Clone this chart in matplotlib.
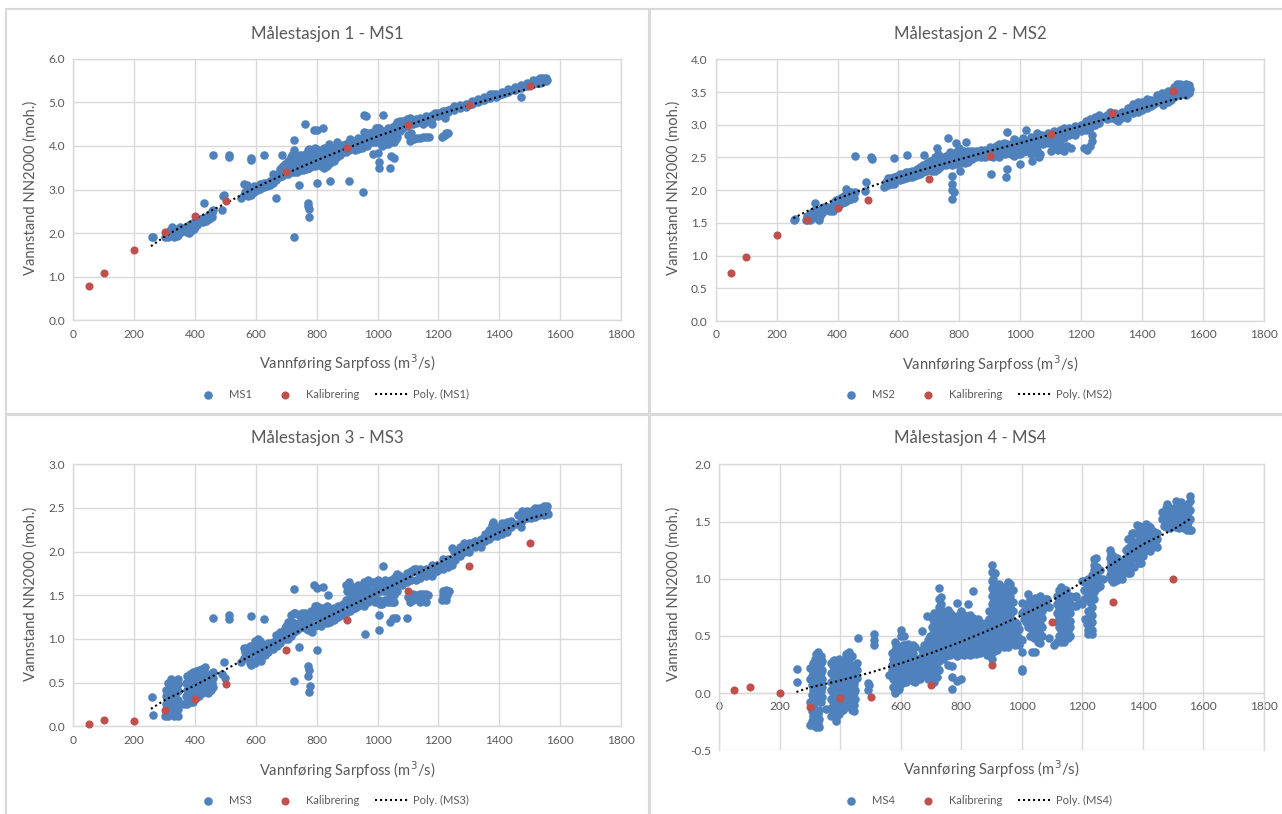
import matplotlib
matplotlib.use("Agg")
import matplotlib.pyplot as plt
from matplotlib.patches import Rectangle

WIDTH, HEIGHT = 1282, 814
BLUE = "#4F81BD"
RED = "#C0504D"
GRID = "#D9D9D9"
TEXT = "#595959"

plt.rcParams["font.family"] = ["Lato", "DejaVu Sans"]

kal_x = [50, 100, 200, 300, 400, 500, 700, 900, 1100, 1300, 1500]
kal_ms1 = [0.78, 1.09, 1.61, 2.03, 2.39, 2.74, 3.39, 3.96, 4.47, 4.94, 5.38]
kal_ms2 = [0.73, 0.98, 1.32, 1.55, 1.72, 1.85, 2.17, 2.52, 2.86, 3.18, 3.52]
kal_ms3 = [0.03, 0.07, 0.06, 0.19, 0.31, 0.48, 0.87, 1.22, 1.55, 1.83, 2.10]
kal_ms4 = [0.03, 0.05, 0.00, -0.12, -0.04, -0.03, 0.07, 0.25, 0.62, 0.80, 1.00]

poly_x = [255, 300, 400, 500, 600, 700, 800, 900, 1000, 1100, 1200, 1300, 1400, 1500, 1555]
poly_ms1 = [1.70, 1.92, 2.33, 2.68, 3.05, 3.37, 3.67, 3.95, 4.22, 4.47, 4.72, 4.93, 5.13, 5.32, 5.40]
poly_ms2 = [1.57, 1.68, 1.87, 2.04, 2.20, 2.34, 2.47, 2.60, 2.72, 2.85, 2.98, 3.11, 3.25, 3.38, 3.42]
poly_ms3 = [0.20, 0.30, 0.47, 0.65, 0.84, 1.02, 1.19, 1.36, 1.53, 1.70, 1.87, 2.05, 2.22, 2.38, 2.43]
poly_ms4 = [0.01, 0.05, 0.11, 0.18, 0.26, 0.35, 0.45, 0.56, 0.68, 0.81, 0.97, 1.13, 1.30, 1.43, 1.52]

ms1_points = [
    (258, 1.92), (262, 1.90), (300, 1.90), (310, 1.92), (320, 1.95), (330, 1.90), (340, 1.93), (345, 1.95),
    (325, 2.15), (335, 2.10), (350, 2.15), (345, 2.05), (360, 2.10), (375, 2.02), (380, 2.00), (385, 2.05),
    (390, 2.12), (385, 2.22), (400, 2.20), (410, 2.25), (420, 2.30), (430, 2.32), (440, 2.35), (450, 2.38),
    (455, 2.50), (460, 2.52), (428, 2.70), (490, 2.52), (493, 2.85), (495, 2.88),
    (552, 2.80), (560, 2.88), (565, 2.95), (570, 2.90), (580, 2.90), (590, 2.95), (560, 3.12), (570, 3.10),
    (600, 3.05), (610, 3.08), (620, 3.10), (630, 3.10), (640, 3.15), (650, 3.20), (660, 3.25), (655, 3.35),
    (670, 3.30), (680, 3.35), (680, 3.48), (690, 3.55), (700, 3.50), (705, 3.40), (710, 3.45), (715, 3.55),
    (725, 3.60), (720, 3.78), (725, 3.90), (730, 3.75), (740, 3.72), (735, 3.55), (745, 3.45), (750, 3.60),
    (755, 3.70), (770, 3.50), (775, 3.60), (780, 3.70), (775, 3.85), (770, 3.90), (790, 3.80), (800, 3.70),
    (810, 3.60), (805, 3.90), (820, 3.80), (830, 3.65), (825, 3.50), (840, 3.70), (850, 3.75), (835, 3.95),
    (840, 4.05), (860, 3.85), (865, 4.10), (870, 3.85), (880, 3.90), (890, 3.95), (905, 4.05), (910, 4.15),
    (920, 3.95), (925, 3.90), (935, 4.05), (940, 4.15), (945, 4.00), (950, 3.95), (960, 4.10), (965, 4.30),
    (975, 4.30), (985, 4.15), (995, 4.20), (1000, 4.40), (1005, 4.10), (1015, 4.00), (1025, 4.25), (1035, 4.15),
    (1045, 4.40), (1050, 4.20), (1060, 4.15), (1065, 4.55), (1080, 4.50), (1095, 4.55), (1105, 4.65), (1120, 4.55),
    (1130, 4.60), (1150, 4.62), (1170, 4.65), (1190, 4.75), (1210, 4.70), (1225, 4.80), (1240, 4.85), (1260, 4.90),
    (1280, 4.92), (1300, 4.95), (1320, 5.00), (1340, 5.05), (1360, 5.10), (1380, 5.18), (1400, 5.17), (1420, 5.22),
    (1440, 5.28), (1460, 5.32), (1480, 5.38), (1500, 5.42), (1520, 5.48), (1530, 5.50), (1540, 5.52), (1550, 5.50),
    (1558, 5.52),
    (1105, 4.12), (1100, 4.25), (1110, 4.30), (1120, 4.15), (1130, 4.17), (1140, 4.18), (1150, 4.20), (1160, 4.20),
    (1170, 4.20), (1210, 4.20), (1215, 4.22), (1220, 4.25), (1225, 4.30), (1232, 4.30),
    (458, 3.78), (510, 3.80), (510, 3.74), (585, 3.73), (585, 3.68), (627, 3.78), (685, 3.80), (725, 4.13),
    (762, 4.50), (790, 4.37), (800, 4.37), (820, 4.40), (955, 4.70), (962, 4.68), (1018, 4.70), (1470, 5.13),
    (1180, 4.50), (1150, 4.50), (1220, 4.65), (665, 2.81), (725, 1.92), (740, 3.10), (772, 2.70), (770, 2.62),
    (775, 2.55), (775, 2.36), (802, 3.16), (843, 3.20), (905, 3.20), (952, 2.95), (985, 3.82), (1000, 3.83),
    (1003, 3.63), (1003, 3.50), (1040, 3.50), (1045, 3.77), (1055, 3.73),
]

# the dense part of each band, read column by column
ms1_band = [
    (305, [1.95, 2.00]), (315, [2.00, 2.05]), (325, [2.00, 2.05]), (335, [2.00]), (355, [2.02, 2.12]),
    (370, [2.05, 2.15]), (380, [2.10, 2.18]), (395, [2.10, 2.25]), (405, [2.18, 2.28]), (415, [2.25, 2.32]),
    (425, [2.25, 2.35]), (435, [2.28, 2.38]), (445, [2.32, 2.42]), (455, [2.38, 2.45]),
    (575, [2.85, 3.00]), (585, [2.88, 3.02]), (595, [2.95, 3.08]), (605, [3.00]), (615, [3.02, 3.12]),
    (625, [3.05, 3.14]), (635, [3.08, 3.16]), (645, [3.10, 3.20]), (655, [3.15, 3.25]), (665, [3.22, 3.32]),
    (675, [3.28, 3.38]), (685, [3.30, 3.42, 3.52]), (695, [3.35, 3.45, 3.58]), (705, [3.35, 3.55, 3.65]),
    (715, [3.40, 3.65, 3.75]), (725, [3.40, 3.50, 3.70, 3.80]), (735, [3.40, 3.65]), (745, [3.55, 3.68, 3.80]),
    (755, [3.45, 3.55, 3.80]), (765, [3.48, 3.60, 3.70, 3.82]), (775, [3.50, 3.70, 3.78, 3.92]),
    (785, [3.55, 3.65, 3.75, 3.88]), (795, [3.55, 3.65, 3.75, 3.90, 3.95]), (805, [3.60, 3.70, 3.80]),
    (815, [3.55, 3.68, 3.80, 3.90]), (825, [3.60, 3.72, 3.85, 3.95]), (835, [3.55, 3.65, 3.75, 3.85]),
    (845, [3.60, 3.85, 3.95]), (855, [3.65, 3.80, 3.95]), (865, [3.75, 3.95]), (875, [3.80, 4.00]),
    (885, [3.85, 4.02]), (895, [3.85, 4.05]), (905, [3.90, 3.95, 4.10]), (915, [3.95, 4.05, 4.12]),
    (925, [4.00, 4.12]), (935, [3.92, 4.18]), (945, [4.10]), (955, [4.05, 4.20, 4.32]), (965, [4.00, 4.18]),
    (975, [4.08, 4.20]), (985, [4.10, 4.25, 4.32]), (995, [4.10, 4.30, 4.40]), (1005, [4.20, 4.30, 4.42]),
    (1015, [4.10, 4.25, 4.35]), (1025, [4.05, 4.15, 4.35]), (1035, [4.05, 4.25, 4.40]), (1045, [4.10, 4.28]),
    (1055, [4.10, 4.30, 4.45]), (1065, [4.20, 4.40]), (1075, [4.35, 4.45, 4.58]), (1085, [4.40, 4.58]),
    (1095, [4.45, 4.62]), (1105, [4.50, 4.55]), (1115, [4.50, 4.60]), (1125, [4.52, 4.62]), (1140, [4.55, 4.65]),
    (1160, [4.55, 4.68]), (1180, [4.65, 4.72]), (1200, [4.68, 4.75]), (1215, [4.72, 4.80]), (1232, [4.78, 4.83]),
    (1250, [4.82, 4.92]), (1270, [4.88, 4.94]), (1290, [4.90, 4.97]), (1310, [4.95, 5.02]), (1330, [5.00, 5.07]),
    (1350, [5.05, 5.12]), (1370, [5.10, 5.18]), (1390, [5.13, 5.20]), (1410, [5.18, 5.24]), (1430, [5.24, 5.30]),
    (1450, [5.28, 5.34]), (1470, [5.33, 5.40]), (1490, [5.38, 5.44]), (1510, [5.42, 5.50]), (1525, [5.45, 5.52]),
    (1535, [5.45, 5.55]), (1545, [5.48, 5.55]), (1555, [5.48, 5.56]),
]

ms2_points = [
    (258, 1.55), (262, 1.56), (295, 1.55), (305, 1.58), (315, 1.60), (325, 1.65), (335, 1.57), (342, 1.60),
    (325, 1.80), (345, 1.70), (355, 1.75), (375, 1.68), (380, 1.72), (390, 1.82), (400, 1.80), (410, 1.85),
    (420, 1.85), (430, 1.87), (440, 1.90), (450, 1.92), (458, 1.97), (428, 2.01), (490, 1.98), (493, 2.12),
    (552, 2.05), (560, 2.12), (570, 2.15), (580, 2.15), (585, 2.10), (590, 2.20), (600, 2.18), (610, 2.20),
    (620, 2.22), (630, 2.22), (640, 2.25), (650, 2.22), (655, 2.30), (665, 2.28), (675, 2.30), (685, 2.35),
    (695, 2.42), (700, 2.35), (710, 2.30), (715, 2.45), (725, 2.40), (735, 2.35), (740, 2.50), (750, 2.42),
    (760, 2.45), (775, 2.38), (785, 2.50), (795, 2.45), (810, 2.50), (820, 2.42), (825, 2.55), (835, 2.50),
    (845, 2.55), (860, 2.52), (875, 2.58), (890, 2.55), (905, 2.60), (915, 2.65), (925, 2.55), (940, 2.68),
    (950, 2.55), (965, 2.62), (975, 2.72), (985, 2.60), (1000, 2.55), (1005, 2.65), (1020, 2.75), (1030, 2.65),
    (1045, 2.60), (1060, 2.70), (1070, 2.85), (1085, 2.82), (1100, 2.75), (1110, 2.90), (1120, 2.78), (1135, 2.85),
    (1150, 2.90), (1170, 2.92), (1190, 2.95), (1210, 3.00), (1225, 3.05), (1240, 3.08), (1255, 3.10), (1270, 3.12),
    (1285, 3.15), (1300, 3.15), (1320, 3.05), (1330, 3.10), (1345, 3.15), (1350, 3.10), (1360, 3.25), (1375, 3.25),
    (1390, 3.30), (1405, 3.28), (1420, 3.35), (1440, 3.32), (1455, 3.40), (1470, 3.35), (1480, 3.48), (1490, 3.42),
    (1500, 3.45), (1510, 3.50), (1520, 3.58), (1530, 3.50), (1540, 3.60), (1548, 3.52), (1555, 3.48), (1558, 3.55),
    (1100, 2.60), (1110, 2.68), (1125, 2.62), (1135, 2.68), (1145, 2.60), (1155, 2.68), (1165, 2.65), (1210, 2.65),
    (1220, 2.62), (1230, 2.68), (1235, 2.75), (1040, 2.45), (1060, 2.50), (1000, 2.40), (1470, 3.30), (1235, 2.85),
    (458, 2.52), (510, 2.50), (512, 2.47), (585, 2.49), (627, 2.53), (685, 2.54), (725, 2.65), (762, 2.80),
    (790, 2.72), (800, 2.65), (822, 2.73), (958, 2.89), (1018, 2.92), (775, 2.22), (775, 2.10), (775, 2.00),
    (782, 1.97), (775, 1.86), (802, 2.29), (905, 2.25), (952, 2.20), (958, 2.32),
]

ms2_band = [
    (300, [1.60]), (310, [1.55, 1.63]), (320, [1.58, 1.68]), (330, [1.60, 1.70]), (340, [1.55, 1.65]),
    (350, [1.65, 1.72]), (365, [1.70, 1.75]), (385, [1.68, 1.78]), (395, [1.75, 1.85]), (405, [1.78, 1.87]),
    (415, [1.80, 1.90]), (425, [1.82, 1.92]), (435, [1.85, 1.92]), (445, [1.87, 1.97]), (455, [1.88, 1.95]),
    (565, [2.08, 2.18]), (575, [2.10, 2.18]), (585, [2.13, 2.20]), (595, [2.15, 2.22]), (605, [2.15, 2.25]),
    (615, [2.17, 2.25]), (625, [2.18, 2.27]), (635, [2.20, 2.28]), (645, [2.20, 2.30]), (660, [2.23, 2.32]),
    (670, [2.25, 2.35]), (680, [2.28, 2.38]), (690, [2.30, 2.40]), (705, [2.32, 2.45]), (720, [2.30, 2.38, 2.50]),
    (730, [2.32, 2.45, 2.55]), (745, [2.38, 2.48]), (755, [2.38, 2.52]), (770, [2.42, 2.50, 2.58]),
    (780, [2.42, 2.55]), (790, [2.40, 2.50, 2.58]), (805, [2.42, 2.55]), (815, [2.48, 2.56, 2.60]),
    (830, [2.43, 2.60]), (840, [2.47, 2.60]), (855, [2.50, 2.60]), (870, [2.50, 2.62]), (885, [2.50, 2.62]),
    (900, [2.52, 2.66]), (910, [2.50, 2.58]), (920, [2.60, 2.68]), (930, [2.50, 2.65, 2.70]), (945, [2.60, 2.72]),
    (955, [2.62, 2.70]), (970, [2.55, 2.68]), (980, [2.52, 2.68, 2.78]), (990, [2.55, 2.65, 2.75]),
    (1010, [2.58, 2.72, 2.80]), (1020, [2.60, 2.68]), (1035, [2.55, 2.72, 2.82]), (1045, [2.68, 2.80]),
    (1055, [2.55, 2.62, 2.78, 2.88]), (1065, [2.55, 2.75]), (1075, [2.70, 2.80]), (1090, [2.72, 2.88]),
    (1105, [2.80, 2.85]), (1115, [2.72, 2.82]), (1130, [2.75, 2.92]), (1145, [2.80, 2.95]), (1160, [2.85, 2.95]),
    (1180, [2.85, 2.98]), (1200, [2.90, 3.00]), (1215, [2.92, 3.05]), (1230, [2.95, 3.08]), (1245, [3.00, 3.12]),
    (1260, [3.02, 3.15]), (1285, [3.08]), (1295, [3.10, 3.20]), (1310, [3.08, 3.18]), (1320, [3.15]),
    (1335, [3.15, 3.20]), (1355, [3.18, 3.25]), (1370, [3.18, 3.32]), (1385, [3.20, 3.35]), (1400, [3.22, 3.35]),
    (1415, [3.25, 3.40]), (1430, [3.28, 3.38]), (1450, [3.35, 3.45]), (1465, [3.40, 3.48]), (1485, [3.35, 3.52]),
    (1495, [3.38, 3.52]), (1505, [3.42, 3.58]), (1515, [3.45, 3.55, 3.62]), (1525, [3.45, 3.55, 3.62]),
    (1535, [3.48, 3.58]), (1545, [3.46, 3.58, 3.62]), (1555, [3.50, 3.60]),
]

ms3_points = [
    (258, 0.34), (262, 0.13), (300, 0.12), (305, 0.18), (310, 0.25), (305, 0.35), (312, 0.42), (320, 0.48),
    (325, 0.38), (315, 0.30), (320, 0.15), (325, 0.22), (330, 0.12), (335, 0.15), (340, 0.25), (345, 0.20),
    (338, 0.30), (335, 0.42), (340, 0.52), (328, 0.52), (345, 0.40), (365, 0.25), (375, 0.25), (385, 0.28),
    (370, 0.35), (380, 0.42), (370, 0.50), (380, 0.55), (390, 0.58), (400, 0.60), (395, 0.48), (390, 0.35),
    (405, 0.40), (415, 0.42), (425, 0.45), (410, 0.55), (420, 0.62), (430, 0.65), (435, 0.55), (440, 0.40),
    (448, 0.42), (455, 0.50), (445, 0.58), (460, 0.62), (490, 0.60), (495, 0.74), (498, 0.55),
    (552, 0.74), (565, 0.85), (570, 0.90), (578, 0.78), (585, 0.70), (590, 0.85), (600, 0.75), (605, 0.95),
    (612, 0.98), (620, 0.80), (625, 0.85), (635, 0.88), (650, 0.90), (660, 0.92), (665, 1.05), (680, 1.00),
    (690, 1.08), (700, 1.15), (710, 1.05), (720, 1.20), (730, 1.30), (735, 1.10), (745, 1.20), (755, 1.25),
    (765, 1.15), (775, 1.20), (785, 1.08), (790, 1.25), (800, 1.38), (810, 1.20), (820, 1.30), (830, 1.20),
    (840, 1.35), (850, 1.25), (865, 1.30), (880, 1.35), (890, 1.30), (900, 1.55), (905, 1.65), (900, 1.40),
    (915, 1.45), (925, 1.35), (930, 1.55), (945, 1.42), (950, 1.60), (960, 1.50), (965, 1.65), (975, 1.55),
    (985, 1.45), (995, 1.62), (1000, 1.68), (1005, 1.45), (1015, 1.40), (1020, 1.55), (1030, 1.62), (1040, 1.50),
    (1050, 1.42), (1055, 1.60), (1060, 1.72), (1075, 1.72), (1090, 1.70), (1105, 1.75), (1120, 1.80), (1135, 1.75),
    (1150, 1.78), (1170, 1.78), (1185, 1.82), (1210, 1.85), (1225, 1.90), (1240, 1.90), (1250, 2.00), (1260, 1.95),
    (1280, 2.05), (1295, 2.08), (1310, 2.10), (1330, 2.10), (1345, 2.12), (1360, 2.20), (1375, 2.30), (1385, 2.22),
    (1400, 2.25), (1415, 2.30), (1430, 2.28), (1450, 2.32), (1470, 2.40), (1480, 2.45), (1495, 2.40), (1510, 2.48),
    (1525, 2.45), (1540, 2.50), (1555, 2.48), (1560, 2.43),
    (1105, 1.42), (1100, 1.48), (1115, 1.45), (1125, 1.50), (1135, 1.45), (1145, 1.48), (1155, 1.45), (1165, 1.50),
    (1210, 1.45), (1220, 1.48), (1228, 1.50), (1235, 1.55),
    (458, 1.24), (510, 1.28), (512, 1.23), (585, 1.26), (627, 1.23), (725, 1.57), (790, 1.62), (800, 1.58),
    (822, 1.60), (838, 1.50), (1018, 1.84), (1470, 2.28), (740, 0.91), (802, 0.87), (725, 0.52), (772, 0.69),
    (770, 0.58), (775, 0.65), (778, 0.46), (775, 0.39), (1003, 1.28), (1003, 1.10), (958, 1.06), (1040, 1.19),
    (1052, 1.24), (1062, 1.24), (1095, 1.24),
]

ms3_band = [
    (305, [0.25, 0.42]), (312, [0.12, 0.20, 0.33, 0.50]), (320, [0.22, 0.30, 0.40, 0.54]), (328, [0.18, 0.30, 0.44]),
    (335, [0.20, 0.35, 0.50]), (345, [0.12, 0.30, 0.48, 0.54]),
    (372, [0.28, 0.42, 0.58]), (382, [0.33, 0.48, 0.60]), (392, [0.28, 0.42, 0.52, 0.62]),
    (402, [0.32, 0.48, 0.55, 0.63]), (412, [0.35, 0.48, 0.60, 0.65]), (422, [0.38, 0.52, 0.58, 0.66]),
    (432, [0.40, 0.48, 0.60, 0.68]), (442, [0.38, 0.48, 0.55]), (452, [0.42, 0.55, 0.60]), (458, [0.45, 0.55]),
    (560, [0.78, 0.90]), (570, [0.78, 0.82]), (580, [0.72, 0.85, 0.92]), (590, [0.75, 0.92]),
    (598, [0.72, 0.85, 0.92, 0.98]), (608, [0.78, 0.85, 1.00]), (618, [0.75, 0.90, 0.95]), (630, [0.82, 0.92]),
    (640, [0.85, 0.95]), (655, [0.88, 0.96]), (670, [0.92, 1.00]), (680, [0.95, 1.08]), (695, [1.00, 1.12]),
    (705, [1.00, 1.10, 1.20]), (715, [1.03, 1.12, 1.28]), (725, [1.08, 1.18, 1.30]), (740, [1.12, 1.28]),
    (750, [1.15, 1.30]), (760, [1.12, 1.22, 1.30]), (770, [1.10, 1.28]), (780, [1.12, 1.25, 1.32]),
    (795, [1.15, 1.30, 1.38]), (805, [1.28, 1.35]), (815, [1.15, 1.24, 1.36]), (825, [1.20, 1.35]),
    (835, [1.18, 1.28, 1.38]), (845, [1.20, 1.30]), (858, [1.22, 1.36]), (870, [1.25, 1.38]), (885, [1.27, 1.40]),
    (895, [1.30, 1.45, 1.62]), (908, [1.32, 1.42, 1.52, 1.60]), (920, [1.36, 1.52, 1.60]),
    (935, [1.38, 1.45, 1.62]), (942, [1.52, 1.60]), (955, [1.38, 1.42, 1.58, 1.65]), (970, [1.42, 1.48, 1.62, 1.68]),
    (985, [1.55, 1.65]), (990, [1.42, 1.52]), (1008, [1.40, 1.55, 1.62]), (1025, [1.45, 1.60, 1.68]),
    (1035, [1.42, 1.55, 1.65]), (1045, [1.42, 1.58, 1.68]), (1055, [1.42, 1.50, 1.70]), (1065, [1.55, 1.65, 1.74]),
    (1080, [1.62, 1.70]), (1095, [1.65, 1.75]), (1110, [1.68, 1.78]), (1125, [1.68, 1.80]), (1140, [1.70, 1.80]),
    (1160, [1.72, 1.80]), (1178, [1.72, 1.85]), (1195, [1.78, 1.85]), (1215, [1.80, 1.92]), (1230, [1.82, 1.92]),
    (1245, [1.85, 2.04]), (1255, [1.90, 2.00]), (1270, [1.95, 2.05]), (1285, [2.00, 2.10]), (1300, [2.00, 2.10]),
    (1320, [2.05, 2.12]), (1340, [2.05, 2.15]), (1352, [2.12, 2.20]), (1365, [2.15, 2.25]), (1378, [2.18, 2.34]),
    (1392, [2.18, 2.28]), (1408, [2.20, 2.33]), (1425, [2.22, 2.34]), (1440, [2.28, 2.35]), (1460, [2.32, 2.42]),
    (1475, [2.35, 2.47]), (1490, [2.38, 2.47]), (1505, [2.38, 2.45]), (1518, [2.40, 2.50]), (1532, [2.42, 2.50]),
    (1548, [2.42, 2.52]), (1558, [2.44, 2.52]),
    (1115, [1.52]), (1140, [1.42, 1.52]), (1150, [1.52]), (1160, [1.42, 1.52]), (1215, [1.50, 1.55]),
    (1225, [1.45, 1.56]),
]

ms4_band = [
    (258, [0.21, 0.10]),
    (300, [-0.28, -0.08, 0.12, 0.22]),
    (310, [-0.28, -0.20, -0.12, -0.05, 0.03, 0.10, 0.18, 0.26]),
    (320, [-0.30, -0.22, -0.15, 0.00, 0.08, 0.15, 0.23, 0.34]),
    (330, [-0.30, -0.23, -0.15, -0.02, 0.06, 0.14, 0.22, 0.30]),
    (340, [-0.03, 0.05, 0.12, 0.20, 0.28]),
    (352, [-0.14]),
    (370, [-0.20, -0.13, -0.05, 0.03, 0.10, 0.18, 0.26]),
    (380, [-0.18, -0.10, -0.02, 0.06, 0.14, 0.22, 0.29]),
    (385, [-0.24]),
    (395, [-0.18, -0.10, -0.02, 0.05, 0.13, 0.20, 0.30]),
    (410, [-0.15, -0.08, 0.00, 0.08, 0.15, 0.23, 0.28]),
    (420, [-0.12, -0.05, 0.03, 0.12, 0.20, 0.30, 0.34]),
    (430, [-0.10, 0.00, 0.10, 0.20, 0.28, 0.36]),
    (445, [-0.16, -0.10, 0.00, 0.08, 0.16, 0.22]),
    (455, [0.13, 0.20, 0.26]),
    (458, [0.48]),
    (490, [0.09, 0.03]),
    (495, [0.07]),
    (510, [0.52, 0.46, 0.42]),
    (560, [0.16]),
    (570, [0.35, 0.25, 0.20, 0.16]),
    (580, [0.45, 0.38, 0.30, 0.22, 0.14, 0.07, 0.02, 0.00]),
    (590, [0.40, 0.30, 0.22, 0.14, 0.07, 0.03]),
    (600, [0.55, 0.50, 0.36, 0.28, 0.20, 0.12, 0.08]),
    (612, [0.50, 0.42, 0.34, 0.26, 0.18, 0.10]),
    (625, [0.43, 0.36, 0.28, 0.20, 0.14]),
    (640, [0.42, 0.35, 0.27, 0.19, 0.11]),
    (655, [0.30, 0.23, 0.16]),
    (670, [0.54, 0.38, 0.32, 0.27]),
    (685, [0.67, 0.43, 0.36, 0.29, 0.22, 0.15]),
    (695, [0.50, 0.42, 0.34, 0.27, 0.20, 0.14]),
    (710, [0.70, 0.62, 0.54, 0.46, 0.38, 0.30, 0.22, 0.15, 0.10]),
    (725, [0.92, 0.82, 0.75, 0.68, 0.60, 0.52, 0.44, 0.36, 0.28, 0.20]),
    (740, [0.72, 0.65, 0.58, 0.50, 0.42, 0.35, 0.30]),
    (755, [0.73, 0.66, 0.58, 0.50, 0.42, 0.36, 0.25]),
    (770, [0.68, 0.60, 0.52, 0.45, 0.38, 0.24, 0.14, 0.04]),
    (785, [0.79, 0.60, 0.53, 0.46, 0.38, 0.32, 0.11]),
    (800, [0.72, 0.64, 0.56, 0.48, 0.40, 0.34, 0.12]),
    (815, [0.62, 0.55, 0.48, 0.40, 0.34]),
    (823, [0.78]),
    (830, [0.68, 0.60, 0.52, 0.45, 0.38, 0.33]),
    (840, [0.89, 0.66, 0.58, 0.50, 0.42, 0.35]),
    (855, [0.65, 0.58, 0.50, 0.42, 0.36]),
    (870, [0.60, 0.52, 0.45, 0.38]),
    (885, [0.62, 0.55, 0.47, 0.40, 0.33]),
    (900, [1.12, 1.06, 0.98, 0.92, 0.85, 0.78, 0.70, 0.62, 0.55, 0.48, 0.40, 0.30]),
    (910, [1.05, 0.95, 0.85, 0.78, 0.70, 0.62, 0.55, 0.48, 0.42]),
    (925, [0.95, 0.85, 0.78, 0.70, 0.62, 0.55, 0.47, 0.40]),
    (940, [0.93, 0.85, 0.78, 0.70, 0.62, 0.54, 0.46, 0.40]),
    (955, [0.97, 0.88, 0.80, 0.72, 0.64, 0.56, 0.48, 0.40]),
    (970, [0.90, 0.80, 0.72, 0.62, 0.55, 0.47]),
    (985, [0.60, 0.53, 0.45]),
    (1002, [0.79, 0.70, 0.46, 0.36, 0.21, 0.19]),
    (1015, [0.78, 0.68, 0.62]),
    (1020, [0.87, 0.75, 0.66, 0.58]),
    (1035, [0.78, 0.70, 0.62, 0.55, 0.36]),
    (1045, [0.83, 0.75, 0.68, 0.60, 0.52, 0.36]),
    (1060, [0.85, 0.77, 0.68, 0.60, 0.52, 0.44]),
    (1075, [0.82, 0.75]),
    (1090, [0.75, 0.48]),
    (1105, [0.42]),
    (1115, [0.85, 0.78, 0.70, 0.62, 0.45]),
    (1130, [0.93, 0.85, 0.78, 0.70, 0.62, 0.55, 0.45]),
    (1145, [0.90, 0.82, 0.74, 0.66, 0.56, 0.48]),
    (1160, [0.85, 0.78, 0.70, 0.63, 0.58, 0.50]),
    (1180, [0.85, 0.76]),
    (1200, [0.98, 0.78]),
    (1210, [0.90, 0.65]),
    (1220, [1.00, 0.92, 0.85, 0.72, 0.62, 0.55, 0.52]),
    (1232, [1.03, 0.95, 0.88, 0.75, 0.68, 0.62, 0.55, 0.52]),
    (1240, [1.17, 1.08, 1.00, 0.90]),
    (1250, [1.10, 1.02, 0.92]),
    (1290, [1.25, 1.18, 1.10, 1.03]),
    (1300, [1.20, 1.12, 1.05, 0.97]),
    (1315, [1.18, 1.10, 1.03, 0.99]),
    (1340, [1.15, 1.08]),
    (1350, [1.35, 1.27, 1.20, 1.12, 1.05]),
    (1365, [1.40, 1.32, 1.25, 1.17]),
    (1380, [1.47, 1.40, 1.32, 1.25, 1.18]),
    (1395, [1.45, 1.37, 1.30, 1.22, 1.14]),
    (1410, [1.48, 1.40, 1.33, 1.25]),
    (1425, [1.45, 1.38, 1.30, 1.24]),
    (1440, [1.40, 1.32]),
    (1470, [1.58, 1.52, 1.46]),
    (1480, [1.65, 1.58, 1.50]),
    (1495, [1.60, 1.53, 1.47]),
    (1510, [1.68, 1.60, 1.52, 1.45]),
    (1525, [1.67, 1.60, 1.52, 1.45]),
    (1545, [1.63, 1.55, 1.47, 1.43]),
    (1555, [1.72, 1.68, 1.60, 1.52, 1.43]),
    (1560, [1.43]),
    # second pass between the columns above
    (305, [-0.24, -0.16, -0.02, 0.07, 0.15, 0.22]),
    (315, [-0.24, -0.16, -0.08, 0.00, 0.07, 0.15, 0.22, 0.30]),
    (325, [-0.26, -0.18, -0.04, 0.04, 0.12, 0.20, 0.28, 0.36]),
    (335, [-0.08, 0.02, 0.10, 0.18, 0.26, 0.32]),
    (375, [-0.16, -0.08, 0.00, 0.08, 0.16, 0.24, 0.28]),
    (388, [-0.20, -0.14, -0.06, 0.02, 0.10, 0.18, 0.26]),
    (402, [-0.15, -0.06, 0.02, 0.10, 0.18, 0.26]),
    (415, [-0.12, -0.04, 0.04, 0.12, 0.20, 0.26, 0.30]),
    (425, [-0.08, 0.00, 0.08, 0.16, 0.25, 0.33]),
    (437, [-0.15, -0.05, 0.05, 0.15, 0.24, 0.32]),
    (450, [-0.05, 0.03, 0.12, 0.20]),
    (575, [0.30, 0.22, 0.12, 0.05]),
    (585, [0.42, 0.34, 0.26, 0.18, 0.10, 0.03]),
    (595, [0.36, 0.26, 0.18, 0.10, 0.04]),
    (606, [0.42, 0.32, 0.24, 0.16, 0.10]),
    (618, [0.38, 0.30, 0.22, 0.14, 0.10]),
    (632, [0.40, 0.32, 0.24, 0.16, 0.12]),
    (648, [0.40, 0.30, 0.22, 0.14, 0.10]),
    (662, [0.30, 0.24, 0.18, 0.12]),
    (678, [0.42, 0.35, 0.28, 0.20]),
    (690, [0.46, 0.38, 0.32, 0.25, 0.18, 0.12]),
    (702, [0.66, 0.58, 0.50, 0.42, 0.34, 0.26, 0.18, 0.12]),
    (718, [0.70, 0.62, 0.54, 0.46, 0.38, 0.30, 0.22, 0.14]),
    (732, [0.84, 0.78, 0.70, 0.62, 0.54, 0.46, 0.38, 0.32]),
    (748, [0.70, 0.62, 0.54, 0.46, 0.38, 0.32]),
    (762, [0.70, 0.62, 0.54, 0.46, 0.40, 0.33]),
    (778, [0.64, 0.56, 0.48, 0.42, 0.35]),
    (792, [0.68, 0.60, 0.52, 0.44, 0.36]),
    (808, [0.68, 0.60, 0.52, 0.44, 0.37, 0.33]),
    (822, [0.62, 0.55, 0.47, 0.40, 0.34]),
    (836, [0.64, 0.56, 0.48, 0.40, 0.34]),
    (848, [0.62, 0.55, 0.47, 0.39, 0.34]),
    (862, [0.62, 0.55, 0.47, 0.40, 0.35]),
    (878, [0.60, 0.52, 0.44, 0.37]),
    (892, [0.72, 0.65, 0.58, 0.50, 0.42, 0.36]),
    (905, [1.00, 0.90, 0.80, 0.72, 0.65, 0.58, 0.50, 0.44, 0.36]),
    (918, [0.92, 0.85, 0.78, 0.70, 0.62, 0.55, 0.48, 0.42, 0.38]),
    (932, [0.90, 0.82, 0.74, 0.66, 0.58, 0.50, 0.43]),
    (948, [0.94, 0.86, 0.78, 0.70, 0.62, 0.54, 0.44]),
    (962, [0.95, 0.85, 0.75, 0.68, 0.60, 0.52, 0.44]),
    (978, [0.62, 0.55, 0.48, 0.42]),
    (992, [0.56, 0.48, 0.42]),
    (1008, [0.72, 0.65]),
    (1028, [0.82, 0.72, 0.65, 0.58, 0.50]),
    (1040, [0.80, 0.72, 0.65, 0.58, 0.48]),
    (1052, [0.82, 0.72, 0.65, 0.56, 0.50, 0.45]),
    (1068, [0.80, 0.72, 0.66, 0.58, 0.50]),
    (1082, [0.82, 0.76]),
    (1122, [0.90, 0.82, 0.74, 0.66, 0.58, 0.50, 0.46]),
    (1138, [0.90, 0.82, 0.74, 0.66, 0.58, 0.50, 0.45]),
    (1152, [0.85, 0.78, 0.70, 0.62, 0.54, 0.48]),
    (1170, [0.84, 0.76]),
    (1190, [0.80]),
    (1205, [0.98, 0.90, 0.82]),
    (1215, [0.96, 0.88, 0.65, 0.60]),
    (1226, [0.98, 0.90, 0.80, 0.70, 0.60, 0.53]),
    (1238, [1.12, 1.04, 0.96, 0.88, 0.82]),
    (1245, [1.18, 1.05, 0.96]),
    (1258, [1.08, 1.00, 0.94]),
    (1268, [1.00]),
    (1295, [1.22, 1.15, 1.08, 1.00]),
    (1308, [1.18, 1.10, 1.02, 0.98]),
    (1322, [1.15, 1.08, 1.02]),
    (1330, [1.10, 1.04, 1.00]),
    (1345, [1.25, 1.18, 1.10]),
    (1358, [1.36, 1.28, 1.20, 1.12, 1.05]),
    (1372, [1.40, 1.32, 1.25, 1.18, 1.10]),
    (1388, [1.46, 1.38, 1.30, 1.22, 1.14]),
    (1402, [1.44, 1.36, 1.28, 1.20]),
    (1418, [1.46, 1.38, 1.30, 1.25]),
    (1432, [1.42, 1.35, 1.28]),
    (1448, [1.40, 1.35, 1.28]),
    (1462, [1.58, 1.52]),
    (1475, [1.62, 1.55, 1.50, 1.45]),
    (1488, [1.62, 1.55, 1.50, 1.44]),
    (1502, [1.62, 1.56, 1.50, 1.46]),
    (1518, [1.66, 1.60, 1.54, 1.48, 1.44]),
    (1535, [1.62, 1.56, 1.50, 1.44]),
    (1550, [1.65, 1.58, 1.50, 1.44]),
]

x_ticks = [0, 200, 400, 600, 800, 1000, 1200, 1400, 1600, 1800]
y_ticks_ms1 = [0, 1, 2, 3, 4, 5, 6]
y_ticks_ms2 = [0, 0.5, 1, 1.5, 2, 2.5, 3, 3.5, 4]
y_ticks_ms3 = [0, 0.5, 1, 1.5, 2, 2.5, 3]
y_ticks_ms4 = [-0.5, 0, 0.5, 1, 1.5, 2]


def px_rect(left, top, right, bottom):
    return [left / WIDTH, 1 - bottom / HEIGHT, (right - left) / WIDTH, (bottom - top) / HEIGHT]


def expand(columns):
    return [(x, y) for x, ys in columns for y in ys]


fig = plt.figure(figsize=(WIDTH / 100, HEIGHT / 100), dpi=100, facecolor="white")

panels = [(6, 9, 649, 414), (650, 9, 1290, 414), (6, 415, 649, 825), (650, 415, 1290, 825)]
for left, top, right, bottom in panels:
    fig.add_artist(Rectangle(
        (left / WIDTH, 1 - bottom / HEIGHT), (right - left) / WIDTH, (bottom - top) / HEIGHT,
        transform=fig.transFigure, facecolor="white", edgecolor=GRID, linewidth=1.5, zorder=-1,
    ))

stations = [
    dict(name="MS1", nr=1, points=ms1_points + expand(ms1_band), kal=kal_ms1, poly=poly_ms1, yticks=y_ticks_ms1,
         box=(73.4, 58.7, 621, 320.3), title_xy=(327.5, 32), xlabel_y=363, ylabel_xy=(31, 188), legend_xy=(330, 394)),
    dict(name="MS2", nr=2, points=ms2_points + expand(ms2_band), kal=kal_ms2, poly=poly_ms2, yticks=y_ticks_ms2,
         box=(715.7, 59.3, 1263.9, 321), title_xy=(970, 32), xlabel_y=364, ylabel_xy=(674, 188), legend_xy=(973, 394)),
    dict(name="MS3", nr=3, points=ms3_points + expand(ms3_band), kal=kal_ms3, poly=poly_ms3, yticks=y_ticks_ms3,
         box=(73.4, 464.3, 621, 726.3), title_xy=(327.5, 437), xlabel_y=770, ylabel_xy=(31, 594), legend_xy=(330, 800)),
    dict(name="MS4", nr=4, points=expand(ms4_band), kal=kal_ms4, poly=poly_ms4, yticks=y_ticks_ms4,
         box=(719.3, 464.3, 1263.9, 750.3), title_xy=(970, 437), xlabel_y=769, ylabel_xy=(674, 594), legend_xy=(973, 800)),
]

for st in stations:
    ax = fig.add_axes(px_rect(*st["box"]))
    ax.set_xlim(0, 1800)
    ax.set_ylim(st["yticks"][0], st["yticks"][-1])
    ax.set_xticks(x_ticks)
    ax.set_yticks(st["yticks"])
    ax.set_yticklabels([f"{t:.1f}" for t in st["yticks"]])
    ax.tick_params(length=0, labelsize=8.6, labelcolor=TEXT, pad=6)
    ax.grid(True, color=GRID, linewidth=1.0)
    ax.set_axisbelow(True)
    for spine in ax.spines.values():
        spine.set_color(GRID)
        spine.set_linewidth(1.0)
    if st["yticks"][0] < 0:
        ax.spines["bottom"].set_position(("data", 0))
    ax.patch.set_alpha(0)

    xs = [p[0] for p in st["points"]]
    ys = [p[1] for p in st["points"]]
    ax.scatter(xs, ys, s=38, color=BLUE, linewidths=0, zorder=3, label=st["name"], clip_on=False)
    ax.scatter(kal_x, st["kal"], s=34, color=RED, linewidths=0, zorder=5, label="Kalibrering", clip_on=False)
    ax.plot(poly_x, st["poly"], color="black", linewidth=1.5, linestyle=(0, (1, 1.4)), zorder=4,
            label=f"Poly. ({st['name']})")

    fig.text(st["title_xy"][0] / WIDTH, 1 - (st["title_xy"][1] + 1.5) / HEIGHT, f"Målestasjon {st['nr']} - {st['name']}",
             ha="center", va="center", fontsize=12.2, color=TEXT)
    center_x = (st["box"][0] + st["box"][2]) / 2
    fig.text(center_x / WIDTH, 1 - st["xlabel_y"] / HEIGHT, "Vannføring Sarpfoss (m$^3$/s)",
             ha="center", va="center", fontsize=10.6, color=TEXT, math_fontfamily="dejavusans")
    fig.text(st["ylabel_xy"][0] / WIDTH, 1 - st["ylabel_xy"][1] / HEIGHT, "Vannstand NN2000 (moh.)",
             ha="center", va="center", rotation=90, fontsize=10.6, color=TEXT)

    handles, labels = ax.get_legend_handles_labels()
    order = [labels.index(st["name"]), labels.index("Kalibrering"), labels.index(f"Poly. ({st['name']})")]
    fig.legend([handles[i] for i in order], [labels[i] for i in order], ncol=3, frameon=False,
               loc="center", bbox_to_anchor=(st["legend_xy"][0] / WIDTH, 1 - st["legend_xy"][1] / HEIGHT),
               fontsize=8, labelcolor=TEXT, handlelength=3.1, handletextpad=0.36, columnspacing=1.4,
               borderpad=0, borderaxespad=0)

plt.savefig("out.png", dpi=100)
plt.close()
